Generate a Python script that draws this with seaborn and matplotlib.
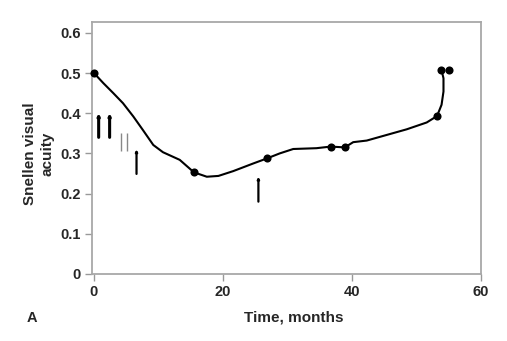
import matplotlib
matplotlib.use("Agg")
import matplotlib.pyplot as plt
import seaborn as sns
import pandas as pd

# Smooth trajectory of visual acuity
curve_t = [0, 1.45, 3.0, 4.5, 6.1, 7.6, 9.2, 10.7, 13.3, 15.5, 17.5, 19.3, 21.6, 24.7,
           26.9, 28.8, 30.9, 34.5, 36.7, 38.9, 40.2, 42.3, 45.4, 48.5, 51.6, 53.2,
           53.9, 54.2, 54.2, 53.9]
curve_v = [0.5, 0.475, 0.45, 0.425, 0.392, 0.358, 0.321, 0.303, 0.284, 0.253, 0.242,
           0.244, 0.256, 0.275, 0.288, 0.300, 0.311, 0.313, 0.317, 0.315, 0.328, 0.332,
           0.346, 0.360, 0.377, 0.393, 0.421, 0.454, 0.487, 0.507]

# Measured visits (dots)
visit_t = [0, 15.5, 26.9, 36.7, 38.9, 53.2, 53.8, 55.0]
visit_v = [0.5, 0.253, 0.288, 0.317, 0.315, 0.393, 0.507, 0.507]

# Treatment arrows
arrow_t = [0.73, 2.43, 6.6, 25.5]
arrow_top = [0.40, 0.40, 0.310, 0.242]
arrow_bottom = [0.340, 0.340, 0.249, 0.180]
arrow_lw = [2.2, 2.2, 1.6, 1.6]

# Thin gray marks
gray_t = [4.24, 5.12]
gray_top = [0.352, 0.352]
gray_bottom = [0.307, 0.307]

y_ticks = [0, 0.1, 0.2, 0.3, 0.4, 0.5, 0.6]
y_ticklabels = ["0", "0.1", "0.2", "0.3", "0.4", "0.5", "0.6"]
x_ticks = [0, 20, 40, 60]

sns.set_theme(style="white")
plt.rcParams["font.family"] = ["Liberation Sans", "DejaVu Sans"]
plt.rcParams["font.weight"] = "bold"

fig = plt.figure(figsize=(5.07, 3.41), dpi=100)
ax = fig.add_axes([0.1815, 0.1965, 0.767, 0.739])

curve_df = pd.DataFrame({"t": curve_t, "v": curve_v})
visit_df = pd.DataFrame({"t": visit_t, "v": visit_v})

sns.lineplot(data=curve_df, x="t", y="v", sort=False, estimator=None,
             color="black", linewidth=1.5, ax=ax)
sns.scatterplot(data=visit_df, x="t", y="v", color="black", s=34,
                edgecolor="black", linewidth=0, ax=ax, zorder=5, clip_on=False)

for t, top, bot, lw in zip(arrow_t, arrow_top, arrow_bottom, arrow_lw):
    ax.annotate("", xy=(t, top), xytext=(t, bot),
                arrowprops=dict(arrowstyle="-|>", mutation_scale=2.5, lw=lw,
                                color="black", shrinkA=0, shrinkB=0))
ax.vlines(gray_t, gray_bottom, gray_top, colors="#888888", linewidth=1.0)

ax.set_xlim(-0.3, 60)
ax.set_ylim(0, 0.627)
ax.set_xticks(x_ticks)
ax.set_xticklabels([str(x) for x in x_ticks])
ax.set_yticks(y_ticks)
ax.set_yticklabels(y_ticklabels)
ax.tick_params(axis="both", which="major", length=5, width=1.0, color="#999999",
               labelsize=10.5, direction="out", pad=3, bottom=True, left=True)
for lab in ax.get_xticklabels() + ax.get_yticklabels():
    lab.set_fontweight("bold")
for sp in ax.spines.values():
    sp.set_color("#a8a8a8")
    sp.set_linewidth(1.3)
ax.set_xlabel("")
ax.set_ylabel("")

fig.text(293.8 / 507, 1 - 318 / 341, "Time, months", ha="center", va="center",
         fontsize=11, fontweight="bold")
fig.text(39 / 507, 1 - 153.5 / 341, "Snellen visual\nacuity", ha="center", va="center",
         rotation=90, multialignment="center", fontsize=11, fontweight="bold",
         linespacing=1.3)
fig.text(32 / 507, 1 - 318 / 341, "A", ha="center", va="center",
         fontsize=10.5, fontweight="bold")

fig.savefig("out.png", dpi=100)
